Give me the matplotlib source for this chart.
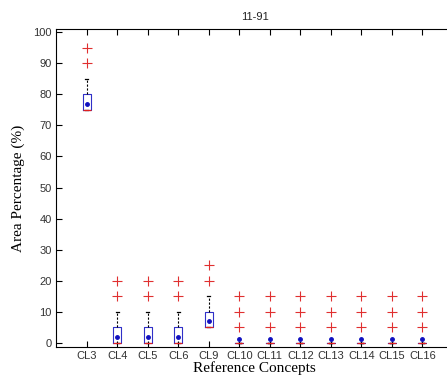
"""
Box plot of area percentage per reference concept
"""

# Imports
import matplotlib
matplotlib.use("Agg")
import matplotlib.pyplot as plt

# Data
categories = ["CL3", "CL4", "CL5", "CL6", "CL9", "CL10", "CL11",
              "CL12", "CL13", "CL14", "CL15", "CL16"]
q1 = [75, 0, 0, 0, 5, 0, 0, 0, 0, 0, 0, 0]
med = [75, 0, 0, 0, 5, 0, 0, 0, 0, 0, 0, 0]
q3 = [80, 5, 5, 5, 10, 0, 0, 0, 0, 0, 0, 0]
whis_lo = [75, 0, 0, 0, 5, 0, 0, 0, 0, 0, 0, 0]
whis_hi = [85, 10, 10, 10, 15, 0, 0, 0, 0, 0, 0, 0]
means = [77, 2, 2, 2, 7, 1.3, 1.3, 1.3, 1.3, 1.3, 1.3, 1.3]
outliers = [[90, 95], [15, 20], [15, 20], [15, 20], [20, 25],
            [5, 10, 15], [5, 10, 15], [5, 10, 15], [5, 10, 15],
            [5, 10, 15], [5, 10, 15], [5, 10, 15]]

# Build stats for bxp
stats = []
for i in range(len(categories)):
    stats.append({"label": categories[i], "q1": q1[i], "med": med[i], "q3": q3[i],
                  "whislo": whis_lo[i], "whishi": whis_hi[i],
                  "mean": means[i], "fliers": outliers[i]})

# Plot
fig = plt.figure(figsize=(4.47, 3.83), dpi=100)
ax = fig.add_axes([0.1253, 0.094, 0.888, 0.8295])

ax.bxp(stats, positions=range(1, len(categories) + 1), widths=0.26,
       capwidths=0.1, showmeans=True,
       boxprops={"color": "#3030c8", "linewidth": 0.8},
       medianprops={"color": "#e02020", "linewidth": 0.9},
       whiskerprops={"color": "black", "linestyle": (0, (2, 1.5)), "linewidth": 0.8},
       capprops={"color": "black", "linewidth": 0.9},
       meanprops={"marker": "o", "markerfacecolor": "#1010c0",
                  "markeredgecolor": "#1010c0", "markersize": 2.5},
       flierprops={"marker": "+", "markeredgecolor": "#e03030",
                   "markersize": 6.5, "markeredgewidth": 0.8})

ax.set_xlim(0, 13)
ax.set_ylim(-1.3, 100.9)
ax.set_yticks(range(0, 101, 10))
ax.set_xticks(range(1, len(categories) + 1))
ax.set_xticklabels(categories)

for lbl in ax.get_xticklabels() + ax.get_yticklabels():
    lbl.set_fontfamily("Liberation Sans")
    lbl.set_fontsize(8)
    lbl.set_color("#333333")

ax.tick_params(direction="in", length=4, width=0.8, top=True, right=True, pad=3)
for s in ax.spines.values():
    s.set_linewidth(0.8)

ax.set_title("11-91", fontfamily="Liberation Sans", fontsize=8, color="#222222", pad=7)
ax.set_xlabel("Reference Concepts", fontfamily="Liberation Serif", fontsize=11, labelpad=0)
ax.set_ylabel("Area Percentage (%)", fontfamily="Liberation Serif", fontsize=11, labelpad=6)

fig.savefig("out.png", dpi=100)
